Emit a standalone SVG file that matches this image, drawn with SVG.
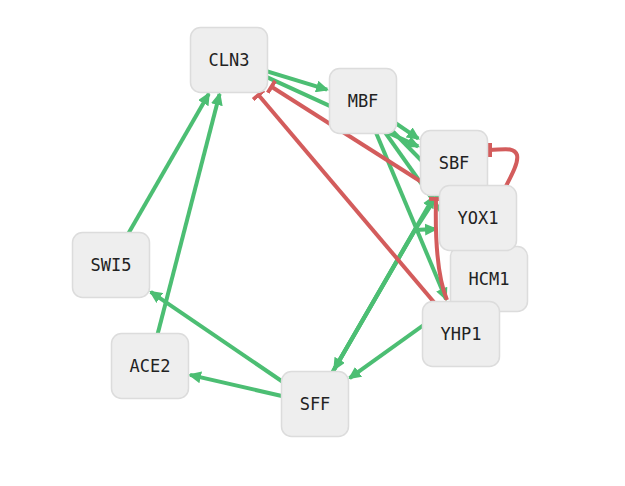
<svg xmlns="http://www.w3.org/2000/svg" width="625" height="486" viewBox="0 0 625 486">
<style>
.node rect{fill:#eeeeee;stroke:#dcdcdc;stroke-width:1.5}
.node text{font-family:"DejaVu Sans Mono","Liberation Mono",monospace;font-size:17px;fill:#222;text-anchor:middle;dominant-baseline:central}
.act{fill:none;stroke:#4cbe73;stroke-width:4;marker-end:url(#arrow)}
.inh{fill:none;stroke:#d35c5c;stroke-width:4;marker-end:url(#tee)}
</style>
<defs>
<marker id="arrow" markerUnits="userSpaceOnUse" markerWidth="14" markerHeight="12" refX="11" refY="6" orient="auto">
<path d="M0,0 L13,6 L0,12 z" fill="#4cbe73"/>
</marker>
<marker id="tee" markerUnits="userSpaceOnUse" markerWidth="6" markerHeight="14" refX="2" refY="7" orient="auto">
<rect x="0" y="0" width="4" height="14" fill="#d35c5c"/>
</marker>
</defs>
<rect width="625" height="486" fill="#ffffff"/>
<g id="edges">
<path class="act" d="M110.5,264.5 L208.8,93.7"/>
<path class="act" d="M149.5,365.5 L219.6,94"/>
<path class="act" d="M314.5,403.5 L150.7,291.8"/>
<path class="act" d="M314.5,403.5 L190,374.9"/>
<path class="act" d="M488.5,278.5 L349.6,378.2"/>
<path class="act" d="M453.5,162.5 L437,196 L415,230 L334.2,369.3"/>
<path class="act" d="M314.5,403.5 L433.8,196.7"/>
<path class="act" d="M314.5,403.5 L415,230 L436,229"/>
<path class="act" d="M362.5,100.5 L446,299.2"/>
<path class="act" d="M362.5,100.5 L464.4,244.4"/>
<path class="act" d="M362.5,100.5 L444,183.5"/>
<path class="act" d="M362.5,100.5 L418.3,138.6"/>
<path class="act" d="M228.5,59.5 L327.1,89.7"/>
<path class="act" d="M228.5,59.5 L418.2,146.4"/>
<path class="inh" d="M477.5,217.5 L271.5,86.8"/>
<path class="inh" d="M460.5,333.5 L258.5,95"/>
<path class="inh" d="M503,192 C510,178 519,163 517,155 C514,146 501,150 490,150"/>
<path class="inh" d="M447,300 C437,276 435,240 436,199"/>
</g>
<g id="CLN3" class="node"><rect x="190.5" y="27.5" width="77" height="65" rx="10"/><text x="229" y="60">CLN3</text></g>
<g id="MBF" class="node"><rect x="329.5" y="68.5" width="67" height="65" rx="10"/><text x="363" y="101">MBF</text></g>
<g id="SWI5" class="node"><rect x="72.5" y="232.5" width="77" height="65" rx="10"/><text x="111" y="265">SWI5</text></g>
<g id="ACE2" class="node"><rect x="111.5" y="333.5" width="77" height="65" rx="10"/><text x="150" y="366">ACE2</text></g>
<g id="SFF" class="node"><rect x="281.5" y="371.5" width="67" height="65" rx="10"/><text x="315" y="404">SFF</text></g>
<g id="SBF" class="node"><rect x="420.5" y="130.5" width="67" height="65" rx="10"/><text x="454" y="163">SBF</text></g>
<g id="HCM1" class="node"><rect x="450.5" y="246.5" width="77" height="65" rx="10"/><text x="489" y="279">HCM1</text></g>
<g id="YOX1" class="node"><rect x="439.5" y="185.5" width="77" height="65" rx="10"/><text x="478" y="218">YOX1</text></g>
<g id="YHP1" class="node"><rect x="422.5" y="301.5" width="77" height="65" rx="10"/><text x="461" y="334">YHP1</text></g>
</svg>
